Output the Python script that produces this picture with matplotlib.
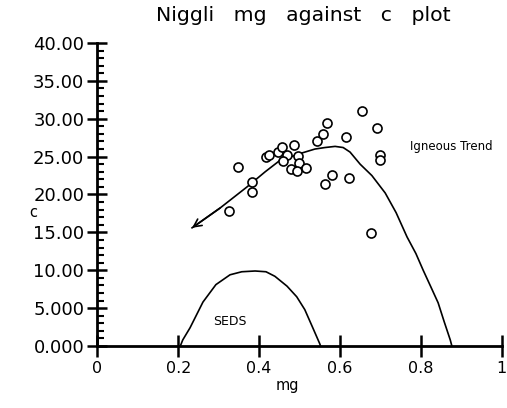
import matplotlib
matplotlib.use("Agg")
import matplotlib.pyplot as plt
from matplotlib.ticker import MultipleLocator, FixedLocator, FixedFormatter

# sample points (mg, c)
mg = [0.326, 0.348, 0.382, 0.382, 0.418, 0.425, 0.446, 0.456, 0.486, 0.469,
      0.459, 0.496, 0.498, 0.479, 0.494, 0.516, 0.543, 0.558, 0.568, 0.654,
      0.615, 0.692, 0.699, 0.699, 0.580, 0.563, 0.622, 0.677]
c = [17.8, 23.6, 21.7, 20.3, 24.9, 25.2, 25.6, 26.3, 26.6, 25.2,
     24.4, 25.1, 24.2, 23.4, 23.1, 23.5, 27.0, 28.0, 29.5, 31.0,
     27.6, 28.8, 25.2, 24.6, 22.6, 21.4, 22.2, 14.9]

# igneous trend curve
ign_x = [0.234, 0.303, 0.370, 0.415, 0.449, 0.501, 0.538, 0.563, 0.588, 0.608,
         0.625, 0.650, 0.679, 0.712, 0.739, 0.766, 0.788, 0.806, 0.825, 0.843,
         0.858, 0.873, 0.877]
ign_y = [15.6, 18.2, 21.0, 23.0, 24.4, 25.4, 26.0, 26.2, 26.35, 26.2,
         25.6, 24.0, 22.5, 20.2, 17.6, 14.4, 12.2, 10.0, 7.8, 5.7,
         3.2, 0.8, 0.0]

# sediment field curve
sed_x = [0.205, 0.211, 0.229, 0.261, 0.293, 0.328, 0.357, 0.390, 0.417, 0.439,
         0.469, 0.493, 0.513, 0.532, 0.550, 0.552]
sed_y = [0.0, 0.8, 2.4, 5.8, 8.1, 9.4, 9.8, 9.9, 9.8, 9.2,
         7.9, 6.5, 4.8, 2.5, 0.3, 0.0]

y_ticks = [0, 5, 10, 15, 20, 25, 30, 35, 40]
y_labels = ["0.000", "5.000", "10.00", "15.00", "20.00", "25.00", "30.00", "35.00", "40.00"]
x_ticks = [0, 0.2, 0.4, 0.6, 0.8, 1.0]
x_labels = ["0", "0.2", "0.4", "0.6", "0.8", "1"]

fig = plt.figure(figsize=(5.07, 4.08), dpi=100)
ax = fig.add_axes([0.1923, 0.152, 0.797, 0.7426])

ax.plot(ign_x, ign_y, color="black", lw=1.2)
ax.annotate("", xy=(ign_x[0], ign_y[0]), xytext=(ign_x[1], ign_y[1]),
            arrowprops=dict(arrowstyle="->", color="black", lw=1.2,
                            mutation_scale=14, shrinkA=0, shrinkB=0))
ax.plot(sed_x, sed_y, color="black", lw=1.2)
ax.plot(mg, c, "o", mfc="white", mec="black", ms=6.5, mew=1.2, ls="none")

ax.text(0.774, 26.3, "Igneous Trend", fontsize=8.5, va="center", ha="left")
ax.text(0.328, 3.2, "SEDS", fontsize=9, va="center", ha="center")

ax.set_xlim(0, 1)
ax.set_ylim(0, 40)
for s in ["top", "right"]:
    ax.spines[s].set_visible(False)
for s in ["left", "bottom"]:
    ax.spines[s].set_linewidth(2)

ax.xaxis.set_major_locator(FixedLocator(x_ticks))
ax.xaxis.set_major_formatter(FixedFormatter(x_labels))
ax.yaxis.set_major_locator(FixedLocator(y_ticks))
ax.yaxis.set_major_formatter(FixedFormatter(y_labels))
ax.yaxis.set_minor_locator(MultipleLocator(1))

ax.tick_params(axis="x", which="major", direction="inout", length=16, width=1.8,
               labelsize=11.5, pad=3)
ax.tick_params(axis="y", which="major", direction="inout", length=15, width=1.8,
               labelsize=13, pad=2)
ax.tick_params(axis="y", which="minor", direction="in", length=5, width=1.5)

ax.set_xlabel("mg", fontsize=10.5)
ax.xaxis.set_label_coords(0.471, -0.106)
ax.set_ylabel("c", fontsize=10.5, rotation=0, va="center", ha="center")
ax.yaxis.set_label_coords(-0.16, 0.442)

fig.text(0.599, 0.963, "Niggli   mg   against   c   plot", fontsize=14.7,
         ha="center", va="center")

fig.savefig("out.png", dpi=100)
